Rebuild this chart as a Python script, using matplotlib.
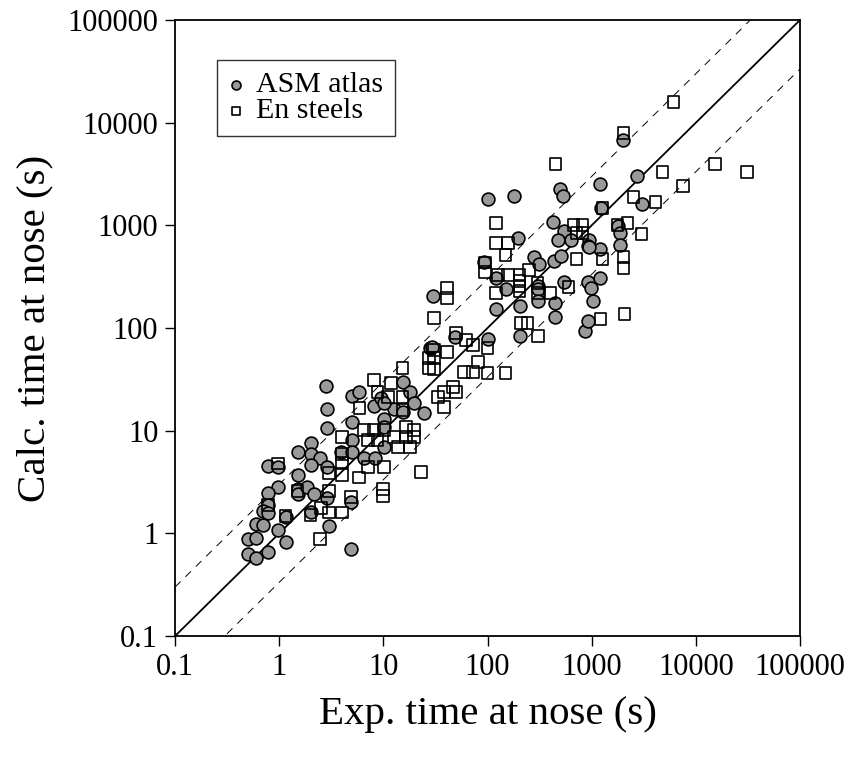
import matplotlib
matplotlib.use("Agg")
import matplotlib.pyplot as plt
from matplotlib.ticker import FixedLocator, FixedFormatter, NullLocator
import numpy as np

# ---- data ----
asm_x = [2.0, 1.5, 2.0, 2.45, 2.9, 2.0, 0.78, 0.97, 1.5, 0.97, 0.78, 1.5, 1.5, 1.85, 2.15,
         0.78, 0.70, 0.78, 1.15, 2.0, 2.9, 0.60, 0.70, 0.97, 0.50, 0.60, 1.15, 3.0, 0.50, 0.60,
         0.78, 4.9, 4.9,
         2.8, 2.9, 2.9, 5.0, 5.9, 8.1, 5.0, 10.1, 15.3, 17.9, 19.6, 24.4, 27.9, 3.9, 5.0, 5.0,
         6.5, 8.3, 10.1, 12.6, 15.3, 10.1,
         30, 120, 149, 120, 203, 203, 100, 29, 49, 9.5, 10.1, 92,
         100, 178, 491, 525, 1190, 421, 194, 537, 470, 627, 933, 912, 1190, 1215, 277, 309,
         431, 502, 537, 912, 1190, 302, 974,
         2018, 2750, 3070, 1800, 1850, 1850, 933,
         1018, 440, 440, 307, 307, 853, 912]
asm_y = [7.6, 6.2, 5.9, 5.4, 4.4, 4.6, 4.5, 4.4, 3.7, 2.8, 2.5, 2.7, 2.4, 2.8, 2.4,
         1.9, 1.65, 1.58, 1.44, 1.6, 2.2, 1.23, 1.2, 1.08, 0.88, 0.9, 0.82, 1.18, 0.63, 0.57,
         0.66, 0.7, 2.0,
         27, 16.2, 10.6, 21.7, 23.8, 17.4, 12.1, 13.0, 29.7, 23.8, 18.6, 14.8, 63.7, 6.2, 8.1, 6.2,
         5.4, 5.4, 6.9, 16.2, 15.2, 10.8,
         205, 306, 240, 153, 163, 83, 78, 65, 81, 21, 18.6, 438,
         1800, 1925, 2250, 1925, 2520, 1075, 750, 878, 718, 718, 718, 627, 586, 1470, 490, 419,
         448, 502, 280, 280, 310, 256, 245,
         6760, 3013, 1608, 980, 850, 650, 613,
         183, 176, 128, 240, 185, 93, 117]

en_x = [4.0, 0.97, 4.0, 4.0, 3.0, 4.0, 1.5, 3.0, 0.78, 1.15, 2.0, 2.5, 3.0, 4.0, 4.9, 2.45,
        15.3, 8.1, 11.8, 8.8, 11.0, 15.3, 5.9, 15.3, 6.5, 8.1, 10.1, 7.1, 8.8, 12.6, 16.4,
        19.6, 16.4, 19.6, 13.7, 17.9, 7.1, 10.1, 5.8, 22.8, 27.2, 27.2,
        40.5, 40.5, 30.4, 49.4, 61.7, 71.9, 100, 30.4, 40.5, 30.4, 30.4, 80.4, 59, 71.9, 100,
        149, 46.3, 37.9, 49.4, 33.2, 37.9, 120, 95, 208, 242, 95,
        450, 120, 120, 156, 149, 669, 817, 715, 817, 1270, 125, 156, 203, 203, 203, 203, 302,
        403, 600, 248, 715, 1270,
        6088, 2018, 4775, 7590, 2517, 4090, 2204, 1767, 3001, 2018, 2018,
        15380, 31190,
        1215, 2063, 307, 307, 10, 10]
en_y = [8.7, 4.8, 5.9, 4.9, 3.9, 3.7, 2.6, 2.6, 1.9, 1.47, 1.5, 1.76, 1.6, 1.6, 2.25, 0.88,
        40.7, 31.1, 29.1, 23.8, 21.2, 21.2, 16.6, 15.9, 10.1, 10.1, 10.1, 8.1, 8.1, 8.7, 10.8,
        10.1, 8.7, 8.7, 6.9, 6.9, 4.4, 4.4, 3.5, 3.95, 50.9, 40.7,
        245, 196, 125, 89, 76, 68, 63.7, 61, 58, 50.9, 39.8, 46.6, 37.2, 37.2, 36.4,
        36.4, 26.6, 23.8, 23.8, 21.2, 17.0, 219, 350, 112, 112, 435,
        3945, 1050, 671, 671, 513, 1004, 1004, 839, 839, 1470, 327, 327, 327, 285, 255, 230, 273,
        219, 250, 366, 469, 469,
        15850, 7900, 3296, 2409, 1882, 1682, 1050, 1004, 820, 490, 383,
        3945, 3296,
        122, 137, 83, 220, 2.7, 2.3]

ticks = [0.1, 1, 10, 100, 1000, 10000, 100000]
tick_labels = ["0.1", "1", "10", "100", "1000", "10000", "100000"]
factor = 3.0

# ---- figure ----
plt.rcParams['font.family'] = ['Liberation Serif', 'DejaVu Serif']
fig = plt.figure(figsize=(8.53, 7.64), dpi=100)
ax = fig.add_axes([0.2052, 0.1675, 0.7327, 0.8063])

ax.set_xscale('log')
ax.set_yscale('log')
ax.set_xlim(ticks[0], ticks[-1])
ax.set_ylim(ticks[0], ticks[-1])

line = np.array([ticks[0], ticks[-1]])
ax.plot(line, line, color='black', lw=1.3, zorder=2)
ax.plot(line, line * factor, color='black', lw=0.7, dashes=(8, 7), zorder=2)
ax.plot(line, line / factor, color='black', lw=0.7, dashes=(8, 7), zorder=2)

ax.scatter(asm_x, asm_y, s=85, marker='o', facecolor='#999999', edgecolor='black',
           linewidths=1.2, label='ASM atlas', zorder=3)
ax.scatter(en_x, en_y, s=72, marker='s', facecolor='none', edgecolor='black',
           linewidths=1.2, label='En steels', zorder=4)

for axis in (ax.xaxis, ax.yaxis):
    axis.set_major_locator(FixedLocator(ticks))
    axis.set_major_formatter(FixedFormatter(tick_labels))
    axis.set_minor_locator(NullLocator())

ax.tick_params(axis='both', which='major', direction='out', length=7, width=1.0,
               labelsize=22, pad=5, colors='black')
for sp in ax.spines.values():
    sp.set_linewidth(1.3)
    sp.set_color('black')

ax.set_xlabel('Exp. time at nose (s)', fontsize=29.5, labelpad=10)
ax.set_ylabel('Calc. time at nose (s)', fontsize=29.5, labelpad=10)

leg = ax.legend(loc='upper left', bbox_to_anchor=(0.067, 0.935), borderaxespad=0,
                fontsize=21.5, frameon=True, fancybox=False, edgecolor='black',
                handlelength=0.5, handletextpad=0.4, markerscale=0.7,
                labelspacing=0.0, borderpad=0.4, handleheight=0.6)
leg.get_frame().set_linewidth(1.0)

fig.savefig('out.png', dpi=100)
